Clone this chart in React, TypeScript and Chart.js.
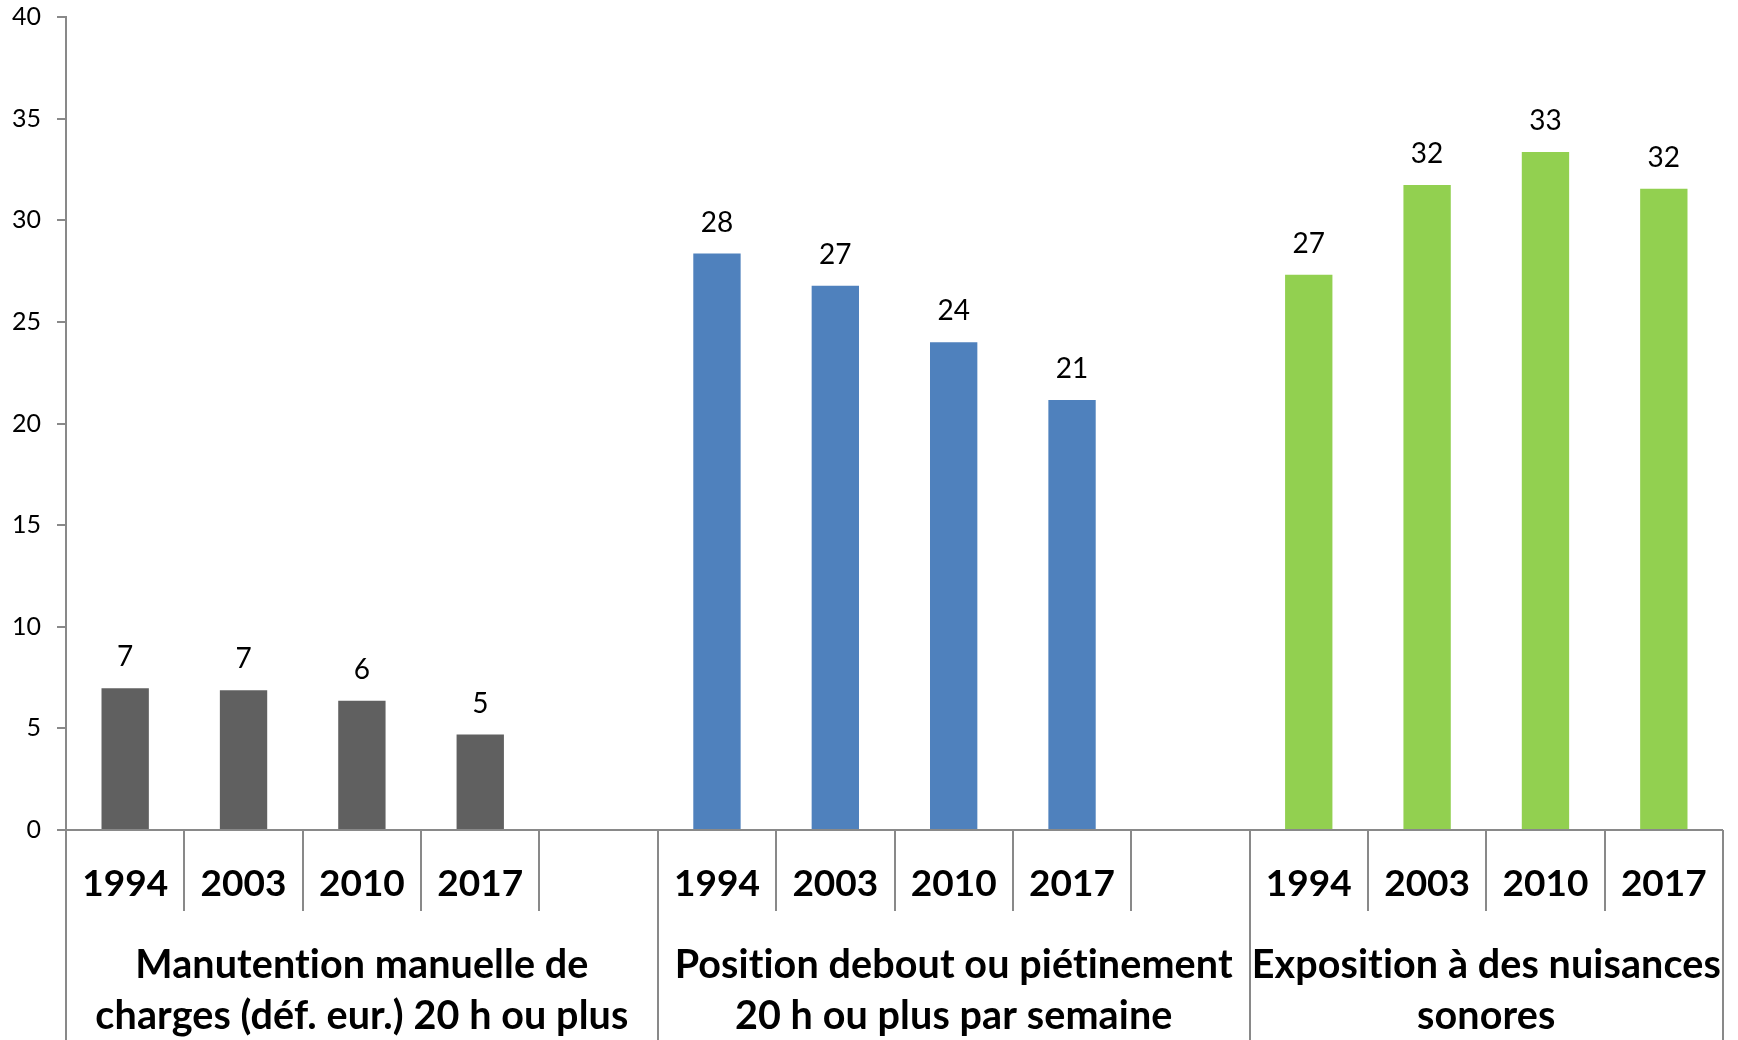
import React, { useEffect, useRef } from "react";
import { Chart, registerables } from "chart.js";

Chart.register(...registerables);

const years = ["1994", "2003", "2010", "2017"];
const groupTitles = [
  ["Manutention manuelle de", "charges (déf. eur.) 20 h ou plus"],
  ["Position debout ou piétinement", "20 h ou plus par semaine"],
  ["Exposition à des nuisances", "sonores"],
];
const manutention = [6.97, 6.87, 6.36, 4.7];
const position = [28.36, 26.78, 24.0, 21.16];
const nuisances = [27.32, 31.74, 33.36, 31.55];
const groupColors = ["#606060", "#4f81bd", "#92d050"];
const yTicksMax = 40;
const yTicksStep = 5;

// Build slot layout: each group = years + an empty spacer slot (except last)
const groupValues = [manutention, position, nuisances];
const labels: string[] = [];
const data: (number | null)[] = [];
const colors: string[] = [];
const groupSizes: number[] = [];
groupValues.forEach((vals, g) => {
  let size = 0;
  vals.forEach((v, i) => {
    labels.push(years[i]);
    data.push(v);
    colors.push(groupColors[g]);
    size++;
  });
  if (g < groupValues.length - 1) {
    labels.push("");
    data.push(null);
    colors.push(groupColors[g]);
    size++;
  }
  groupSizes.push(size);
});

const AXIS_COLOR = "#898989";
const FONT = "Lato, 'Open Sans', sans-serif";

const customPlugin = {
  id: "customAxis",
  afterDatasetsDraw(chart: any) {
    const ctx = chart.ctx;
    const meta = chart.getDatasetMeta(0);
    ctx.save();
    ctx.fillStyle = "#000";
    ctx.font = `28px ${FONT}`;
    ctx.textAlign = "center";
    ctx.textBaseline = "middle";
    meta.data.forEach((bar: any, i: number) => {
      const v = data[i];
      if (v == null) return;
      ctx.fillText(String(Math.round(v)), bar.x, bar.y - 31);
    });
    ctx.restore();
  },
  afterDraw(chart: any) {
    const ctx = chart.ctx;
    const x = chart.scales.x;
    const area = chart.chartArea;
    const n = labels.length;
    const w = (area.right - area.left) / n;
    const base = area.bottom;
    const H = chart.height;
    ctx.save();
    ctx.strokeStyle = AXIS_COLOR;
    ctx.lineWidth = 2;
    // baseline
    ctx.beginPath();
    ctx.moveTo(area.left - 9, base);
    ctx.lineTo(area.right, base);
    ctx.stroke();
    // separators
    const groupBounds = new Set<number>();
    let acc = 0;
    groupBounds.add(0);
    groupSizes.forEach((s) => {
      acc += s;
      groupBounds.add(acc);
    });
    for (let i = 0; i <= n; i++) {
      const px = Math.round(area.left + i * w);
      ctx.beginPath();
      ctx.moveTo(px, base);
      ctx.lineTo(px, groupBounds.has(i) ? H : base + 81);
      ctx.stroke();
    }
    // year labels
    ctx.fillStyle = "#000";
    ctx.font = `bold 37px ${FONT}`;
    ctx.textAlign = "center";
    ctx.textBaseline = "middle";
    labels.forEach((l, i) => {
      if (!l) return;
      ctx.fillText(l, x.getPixelForValue(i), base + 54);
    });
    // group labels
    ctx.font = `bold 39.5px ${FONT}`;
    try {
      (ctx as any).letterSpacing = "0.1px";
    } catch (e) {}
    ctx.textBaseline = "alphabetic";
    let start = 0;
    groupSizes.forEach((s, g) => {
      const cx = area.left + (start + s / 2) * w;
      groupTitles[g].forEach((line, li) => {
        ctx.fillText(line, cx, 978 + li * 51);
      });
      start += s;
    });
    ctx.restore();
  },
};

export default function App() {
  const ref = useRef<HTMLCanvasElement | null>(null);
  useEffect(() => {
    document.body.style.margin = "0";
    const canvas = ref.current!;
    const chart = new Chart(canvas, {
      type: "bar",
      data: {
        labels,
        datasets: [
          {
            data,
            backgroundColor: colors,
            barPercentage: 0.4,
            categoryPercentage: 1,
          },
        ],
      },
      options: {
        responsive: false,
        animation: false,
        devicePixelRatio: 1,
        layout: { padding: { top: 17, right: 15, left: 0, bottom: 0 } },
        plugins: {
          legend: { display: false },
          tooltip: { enabled: false },
          title: { display: false },
        },
        scales: {
          x: {
            display: true,
            grid: { display: false },
            border: { display: false },
            ticks: { display: false },
            afterFit: (scale: any) => {
              scale.height = 210;
            },
          },
          y: {
            min: 0,
            max: yTicksMax,
            ticks: {
              stepSize: yTicksStep,
              color: "#000",
              font: { family: FONT, size: 25 },
              padding: 16,
            },
            grid: {
              drawOnChartArea: false,
              drawTicks: true,
              tickLength: 9,
              color: AXIS_COLOR,
              lineWidth: 2,
            },
            border: { display: true, color: AXIS_COLOR, width: 2 },
            afterFit: (scale: any) => {
              scale.width = 66;
              scale.paddingTop = 0;
              scale.paddingBottom = 0;
            },
          },
        },
      },
      plugins: [customPlugin],
    });
    return () => chart.destroy();
  }, []);
  return (
    <div style={{ width: 1738, height: 1040, background: "#fff" }}>
      <canvas ref={ref} width={1738} height={1040} />
    </div>
  );
}
